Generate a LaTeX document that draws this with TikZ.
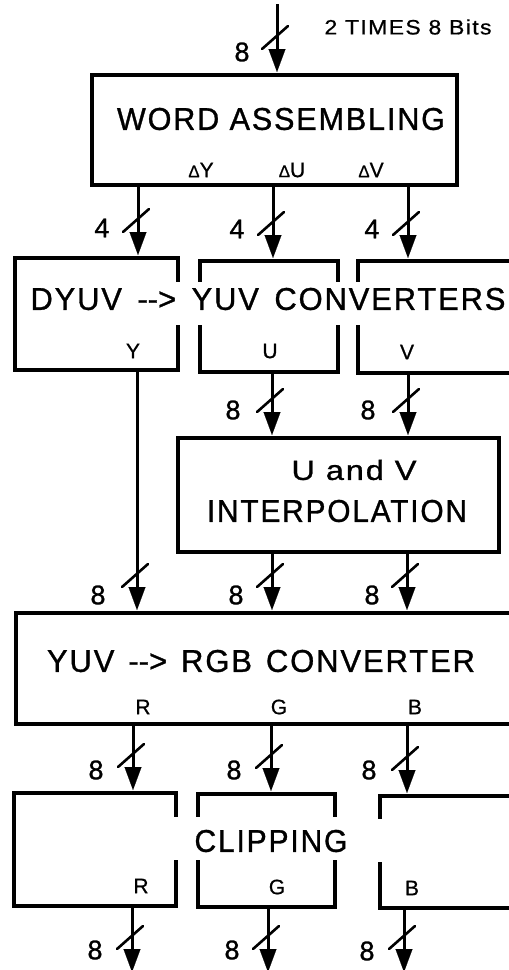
\documentclass[tikz,border=0pt]{standalone}
\usepackage{fontspec}
\setmainfont{Liberation Sans}[FakeBold=1.0,Ligatures=NoCommon]
\newfontfamily\smallfont{Liberation Sans}[FakeBold=0.7]
\usetikzlibrary{arrows.meta,calc}
\newcommand\fittext[3]{\resizebox{#1pt}{#2pt}{\addfontfeature{LetterSpace=6}#3}}
\newcommand\arr{-\kern0pt-\kern0pt>}
\newcommand\busmark[1]{\draw[slashline] ($(#1)+(-15,-26)$) -- ($(#1)+(11,-49)$);}
\tikzset{
  box/.style={draw, line width=3.4pt, inner sep=0pt, rectangle},
  boxline/.style={line width=3.4pt, line join=miter, line cap=rect},
  bus/.style={line width=3pt, -{Triangle[length=23pt,width=17pt,line width=0.1pt]}, shorten >=3pt},
  slashline/.style={line width=2.6pt, line cap=round},
  num/.style={inner sep=0pt, font=\fontsize{27}{27}\selectfont},
  sig/.style={inner sep=0pt, font=\smallfont\fontsize{21}{21}\selectfont},
  title/.style={inner sep=0pt},
}
\begin{document}
\begin{tikzpicture}[x=1pt,y=-1pt]
\useasboundingbox (0,0) rectangle (509,970);
\clip (0,0) rectangle (509,970);
\fill[white] (0,0) rectangle (509,970);

% ---------- WORD ASSEMBLING ----------
\node[box, minimum width=365pt, minimum height=110pt] (wa) at (274.5,130) {};
\node[title] (watxt) at (281,119) {\fittext{328}{22}{WORD ASSEMBLING}};
\node[sig] (dy) at (201,170) {{\fontsize{17}{17}\selectfont Δ}Y};
\node[sig] (du) at (292,170) {{\fontsize{17}{17}\selectfont Δ}U};
\node[sig] (dv) at (371,170) {{\fontsize{17}{17}\selectfont Δ}V};
\node[title] (times) at (408,27) {\smallfont\fittext{167}{15}{2 TIMES 8 Bits}};

\coordinate (in) at (277,4);
\coordinate (wa-in) at (277,75);
\draw[bus] (in) -- (wa-in);
\busmark{wa-in}
\node[num] (n0) at (242,52) {8};

% ---------- CONVERTERS ----------
\draw[boxline] (178,280) -- (178,258) -- (15,258) -- (15,370) -- (178,370) -- (178,327);
\draw[boxline] (200,280) -- (200,261) -- (338,261) -- (338,280);
\draw[boxline] (200,327) -- (200,372) -- (338,372) -- (338,327);
\draw[boxline] (358,280) -- (358,261) -- (520,261);
\draw[boxline] (358,327) -- (358,373) -- (520,373);
\node[title] (convtxt) at (268,299) {\fittext{475}{22}{DYUV\hspace{0.5em}\arr\hspace{0.5em}YUV\hspace{0.5em}CONVERTERS}};
\node[sig] (ly) at (133,351) {Y};
\node[sig] (lu) at (270,351) {U};
\node[sig] (lv) at (407,352) {V};

\coordinate (wa-y) at (138,185);
\coordinate (wa-u) at (273,185);
\coordinate (wa-v) at (408,185);
\coordinate (cy-in) at (138,258);
\coordinate (cu-in) at (273,261);
\coordinate (cv-in) at (408,261);
\draw[bus] (wa-y) -- (cy-in); \busmark{cy-in}
\draw[bus] (wa-u) -- (cu-in); \busmark{cu-in}
\draw[bus] (wa-v) -- (cv-in); \busmark{cv-in}
\node[num] (n4a) at (102,228) {4};
\node[num] (n4b) at (237,229) {4};
\node[num] (n4c) at (372,229) {4};

% ---------- INTERPOLATION ----------
\node[box, minimum width=321pt, minimum height=114pt] (ip) at (338.5,495) {};
\node[title] (iptxt1) at (354,470) {\fittext{125}{20}{U and V}};
\node[title] (iptxt2) at (337,511) {\fittext{260}{22}{INTERPOLATION}};

\coordinate (cu-out) at (272,372);
\coordinate (cv-out) at (408,373);
\coordinate (ip-u) at (272,438);
\coordinate (ip-v) at (408,438);
\draw[bus] (cu-out) -- (ip-u); \busmark{ip-u}
\draw[bus] (cv-out) -- (ip-v); \busmark{ip-v}
\node[num] (n8a) at (233,410) {8};
\node[num] (n8b) at (368,410) {8};

% ---------- YUV -> RGB ----------
\node[box, minimum width=520pt, minimum height=111pt] (rgb) at (276,668.5) {};
\node[title] (rgbtxt) at (261,661) {\fittext{428}{22}{YUV\hspace{0.45em}\arr\hspace{0.45em}RGB\hspace{0.45em}CONVERTER}};
\node[sig] (lr) at (143,707) {R};
\node[sig] (lg) at (279,707) {G};
\node[sig] (lb) at (415,707) {B};

\coordinate (cy-out) at (137,370);
\coordinate (ip-uo) at (272,552);
\coordinate (ip-vo) at (407,552);
\coordinate (rgb-y) at (137,613);
\coordinate (rgb-u) at (272,613);
\coordinate (rgb-v) at (407,613);
\draw[bus] (cy-out) -- (rgb-y); \busmark{rgb-y}
\draw[bus] (ip-uo) -- (rgb-u); \busmark{rgb-u}
\draw[bus] (ip-vo) -- (rgb-v); \busmark{rgb-v}
\node[num] (n8c) at (98,595) {8};
\node[num] (n8d) at (236,595) {8};
\node[num] (n8e) at (372,595) {8};

% ---------- CLIPPING ----------
\draw[boxline] (176,815) -- (176,793) -- (14,793) -- (14,906) -- (176,906) -- (176,862);
\draw[boxline] (198,815) -- (198,794) -- (335,794) -- (335,815);
\draw[boxline] (198,862) -- (198,907) -- (335,907) -- (335,862);
\draw[boxline] (380,817) -- (380,796) -- (520,796);
\draw[boxline] (380,864) -- (380,908) -- (520,908);
\node[title] (cliptxt) at (271,841) {\fittext{153}{22}{CLIPPING}};
\node[sig] (cr) at (141,886) {R};
\node[sig] (cg) at (277,887) {G};
\node[sig] (cb) at (412,888) {B};

\coordinate (rgb-r) at (133,724);
\coordinate (rgb-g) at (271,724);
\coordinate (rgb-b) at (407,724);
\coordinate (cl-r) at (133,793);
\coordinate (cl-g) at (271,794);
\coordinate (cl-b) at (407,796);
\draw[bus] (rgb-r) -- (cl-r); \busmark{cl-r}
\draw[bus] (rgb-g) -- (cl-g); \busmark{cl-g}
\draw[bus] (rgb-b) -- (cl-b); \busmark{cl-b}
\node[num] (n8f) at (96,770) {8};
\node[num] (n8g) at (234,770) {8};
\node[num] (n8h) at (369,770) {8};

\coordinate (cl-ro) at (132,906);
\coordinate (cl-go) at (268,907);
\coordinate (cl-bo) at (404,908);
\coordinate (out-r) at (132,975);
\coordinate (out-g) at (268,975);
\coordinate (out-b) at (404,975);
\draw[bus] (cl-ro) -- (out-r); \busmark{out-r}
\draw[bus] (cl-go) -- (out-g); \busmark{out-g}
\draw[bus] (cl-bo) -- (out-b); \busmark{out-b}
\node[num] (n8i) at (95,950) {8};
\node[num] (n8j) at (232,950) {8};
\node[num] (n8k) at (367,951) {8};
\end{tikzpicture}
\end{document}
